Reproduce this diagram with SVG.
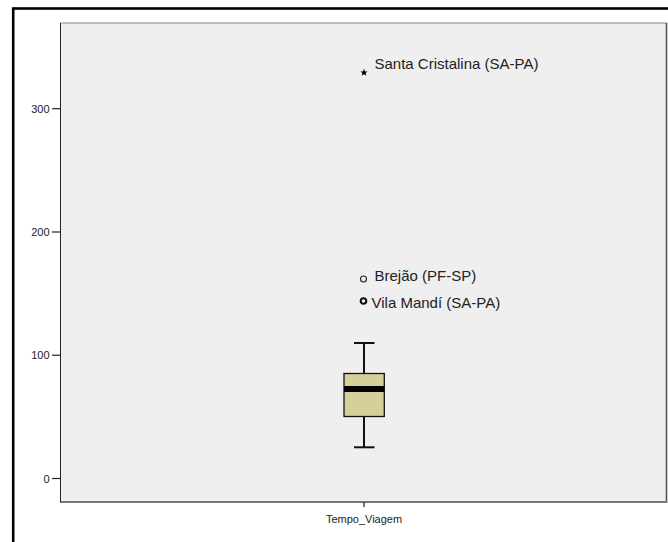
<svg xmlns="http://www.w3.org/2000/svg" width="668" height="542" viewBox="0 0 668 542">
<style>
.tick{font-family:"Liberation Sans",Arial,sans-serif;font-size:11px;fill:#222;text-anchor:end}
.lab{font-family:"Liberation Sans",Arial,sans-serif;font-size:15px;fill:#222}
.ax{stroke:#222;stroke-width:1.2}
</style>
<rect x="0" y="0" width="668" height="542" fill="#fff"/>
<rect x="13.2" y="8.5" width="700" height="600" fill="none" stroke="#000" stroke-width="2.6"/>
<g id="plot-area">
<rect x="60" y="23" width="607" height="479" fill="#efefef"/>
<line x1="60" y1="23" x2="667" y2="23" stroke="#888" stroke-width="1"/>
<line x1="666.5" y1="23" x2="666.5" y2="503" stroke="#555" stroke-width="1.6"/>
<line x1="60" y1="502" x2="667" y2="502" stroke="#777" stroke-width="1.8"/>
<line x1="60.5" y1="23" x2="60.5" y2="502" stroke="#222" stroke-width="1"/>
</g>
<g id="y-axis">
<line class="ax" x1="52" y1="108.7" x2="60" y2="108.7"/>
<line class="ax" x1="52" y1="232" x2="60" y2="232"/>
<line class="ax" x1="52" y1="355.2" x2="60" y2="355.2"/>
<line class="ax" x1="52" y1="478.5" x2="60" y2="478.5"/>
<text class="tick" x="49.5" y="112.5">300</text>
<text class="tick" x="49.5" y="236">200</text>
<text class="tick" x="49.5" y="359">100</text>
<text class="tick" x="49.5" y="482.5">0</text>
</g>
<g id="x-axis">
<line class="ax" x1="364" y1="502" x2="364" y2="507"/>
<text x="364" y="523" font-family="'Liberation Sans',Arial,sans-serif" font-size="11" fill="#222" text-anchor="middle">Tempo_Viagem</text>
</g>
<g id="connectors" stroke="#111" stroke-width="2" fill="none">
<line x1="364" y1="343" x2="364" y2="373.3"/>
<line x1="364" y1="416.7" x2="364" y2="447.3"/>
<line x1="354" y1="343" x2="374.5" y2="343"/>
<line x1="354" y1="447.3" x2="374.5" y2="447.3"/>
</g>
<g id="box">
<rect x="344" y="373.5" width="40.3" height="43" fill="#d4d09a" stroke="#111" stroke-width="1.3"/>
<rect x="344" y="386" width="40.3" height="6" fill="#000"/>
</g>
<g id="santa-cristalina">
<polygon points="364,68.8 365,71.4 367.6,71.5 365.6,73.1 366.3,75.7 364,74.2 361.7,75.7 362.4,73.1 360.4,71.5 363,71.4" fill="#000"/>
<text class="lab" x="374.5" y="69.3">Santa Cristalina (SA-PA)</text>
</g>
<g id="brejao">
<circle cx="363.5" cy="279" r="3" fill="none" stroke="#222" stroke-width="1.1"/>
<text class="lab" x="374.5" y="280.5">Brejão (PF-SP)</text>
</g>
<g id="vila-mandi">
<circle cx="363.5" cy="301" r="2.8" fill="none" stroke="#111" stroke-width="2"/>
<text class="lab" x="371.5" y="307.5">Vila Mandí (SA-PA)</text>
</g>
</svg>
